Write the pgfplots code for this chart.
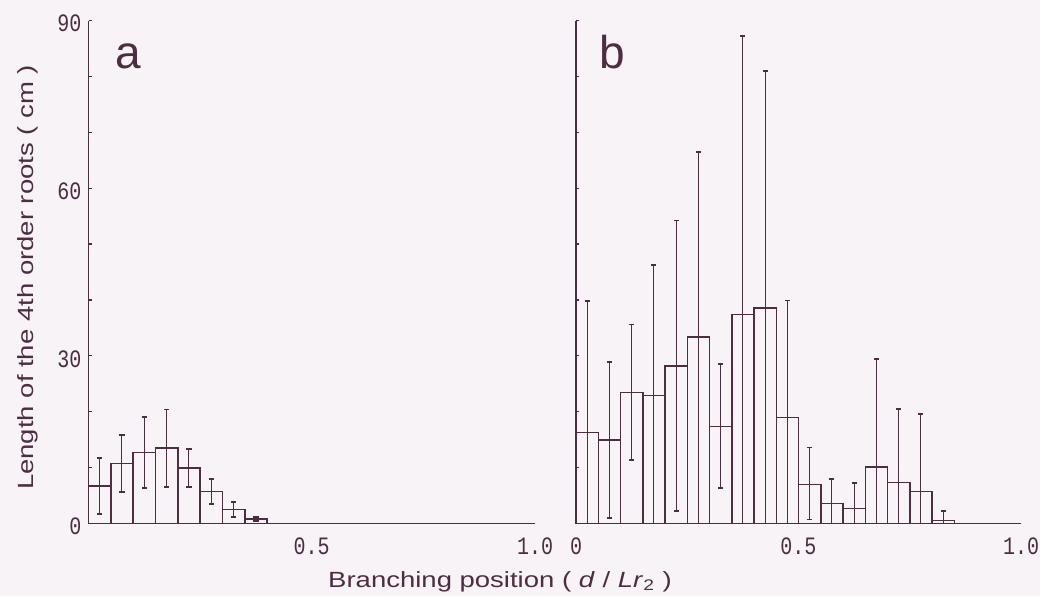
\documentclass[border=0pt]{standalone}
\usepackage{pgfplots}
\pgfplotsset{compat=1.18}
\usepackage{pgfplotstable}
\usepackage{fontspec}
\setmainfont{Liberation Sans}
\newfontfamily\labfont{Liberation Sans}[FakeStretch=1.25]
\newfontfamily\tickfont{Liberation Mono}[FakeStretch=0.8]
\newfontfamily\letfont{Liberation Sans}
\definecolor{ink}{RGB}{78,45,66}
\definecolor{bg}{RGB}{247,243,246}

\pgfplotstableread{
x     y     ep    em
0.025 6.7   5.0   5.0
0.075 10.7  5.1   5.1
0.125 12.7  6.4   6.4
0.175 13.5  6.9   6.9
0.225 9.9   3.4   3.4
0.275 5.7   2.2   2.2
0.325 2.5   1.4   1.4
0.375 0.8   0.4   0.4
}\dataA

\pgfplotstableread{
x     y     ep    em
0.025 16.3  23.5  16.3
0.075 14.9  14.0  13.9
0.125 23.4  12.2  12.1
0.175 22.9  23.4  22.9
0.225 28.2  26.0  25.9
0.275 33.4  33.1  33.4
0.325 17.4  11.2  11.1
0.375 37.4  49.9  37.4
0.425 38.6  42.4  38.6
0.475 19.0  20.9  19.0
0.525 7.0   6.6   6.3
0.575 3.6   4.4   3.6
0.625 2.7   4.5   2.7
0.675 10.1  19.3  10.1
0.725 7.3   13.2  7.3
0.775 5.7   13.9  5.7
0.825 0.5   1.7   0.5
}\dataB

\pgfplotsset{
  panel/.style={
    scale only axis, height=251.5pt,
    xmin=0, xmax=1, ymin=0, ymax=90,
    axis x line=bottom, axis y line=left,
    axis line style={-, draw=ink, line width=0.8pt},
    ytick={0,10,...,90},
    tick align=inside, major tick length=1.6pt,
    ytick style={draw=ink, line width=0.6pt},
    xtick style={draw=none},
    ticklabel style={font=\tickfont\fontsize{12.5}{12.5}\selectfont, text=ink},
    xticklabel style={yshift=-3.5pt},
    clip=false,
  },
  hist/.style={
    ybar, bar width=0.05, draw=ink, fill=none, line width=0.75pt, mark=none,
    error bars/.cd, y dir=both, y explicit,
      error mark=-,
      error mark options={rotate=90, draw=ink, line width=0.9pt, mark size=1.3pt},
      error bar style={draw=ink, line width=0.5pt},
  },
}

\begin{document}
\begin{tikzpicture}
\path[use as bounding box, fill=bg] (0,0) rectangle (520pt,298pt);

\begin{axis}[panel, at={(44.25pt,36.25pt)}, anchor=south west, width=223.25pt,
  xtick={0.5,1}, xticklabels={0.5,1.0},
  yticklabels={0,,,30,,,60,,,90},
  yticklabel style={yshift=-1.5pt}]
\addplot[hist] table[x=x, y=y, y error plus=ep, y error minus=em] {\dataA};
\end{axis}

\begin{axis}[panel, at={(288pt,36.25pt)}, anchor=south west, width=222.5pt,
  xtick={0,0.5,1}, xticklabels={0,0.5,1.0},
  yticklabels={,,,,,,,,,,}]
\addplot[hist] table[x=x, y=y, y error plus=ep, y error minus=em] {\dataB};
\end{axis}

\node[anchor=base west, text=ink, font=\letfont\fontsize{23}{23}\selectfont] at (54pt,263.5pt) {a};
\node[anchor=base west, text=ink, font=\letfont\fontsize{23}{23}\selectfont] at (296pt,263.5pt) {b};

\node[anchor=base, rotate=90, text=ink, font=\labfont\fontsize{11}{11}\selectfont] at (16.5pt,159.25pt)
  {Length of the 4th order roots ( cm )};
\node[anchor=base, text=ink, font=\labfont\fontsize{11}{11}\selectfont] at (250pt,4.5pt)
  {Branching position ( \textit{d} / \textit{Lr}\textsubscript{2} )};
\end{tikzpicture}
\end{document}
